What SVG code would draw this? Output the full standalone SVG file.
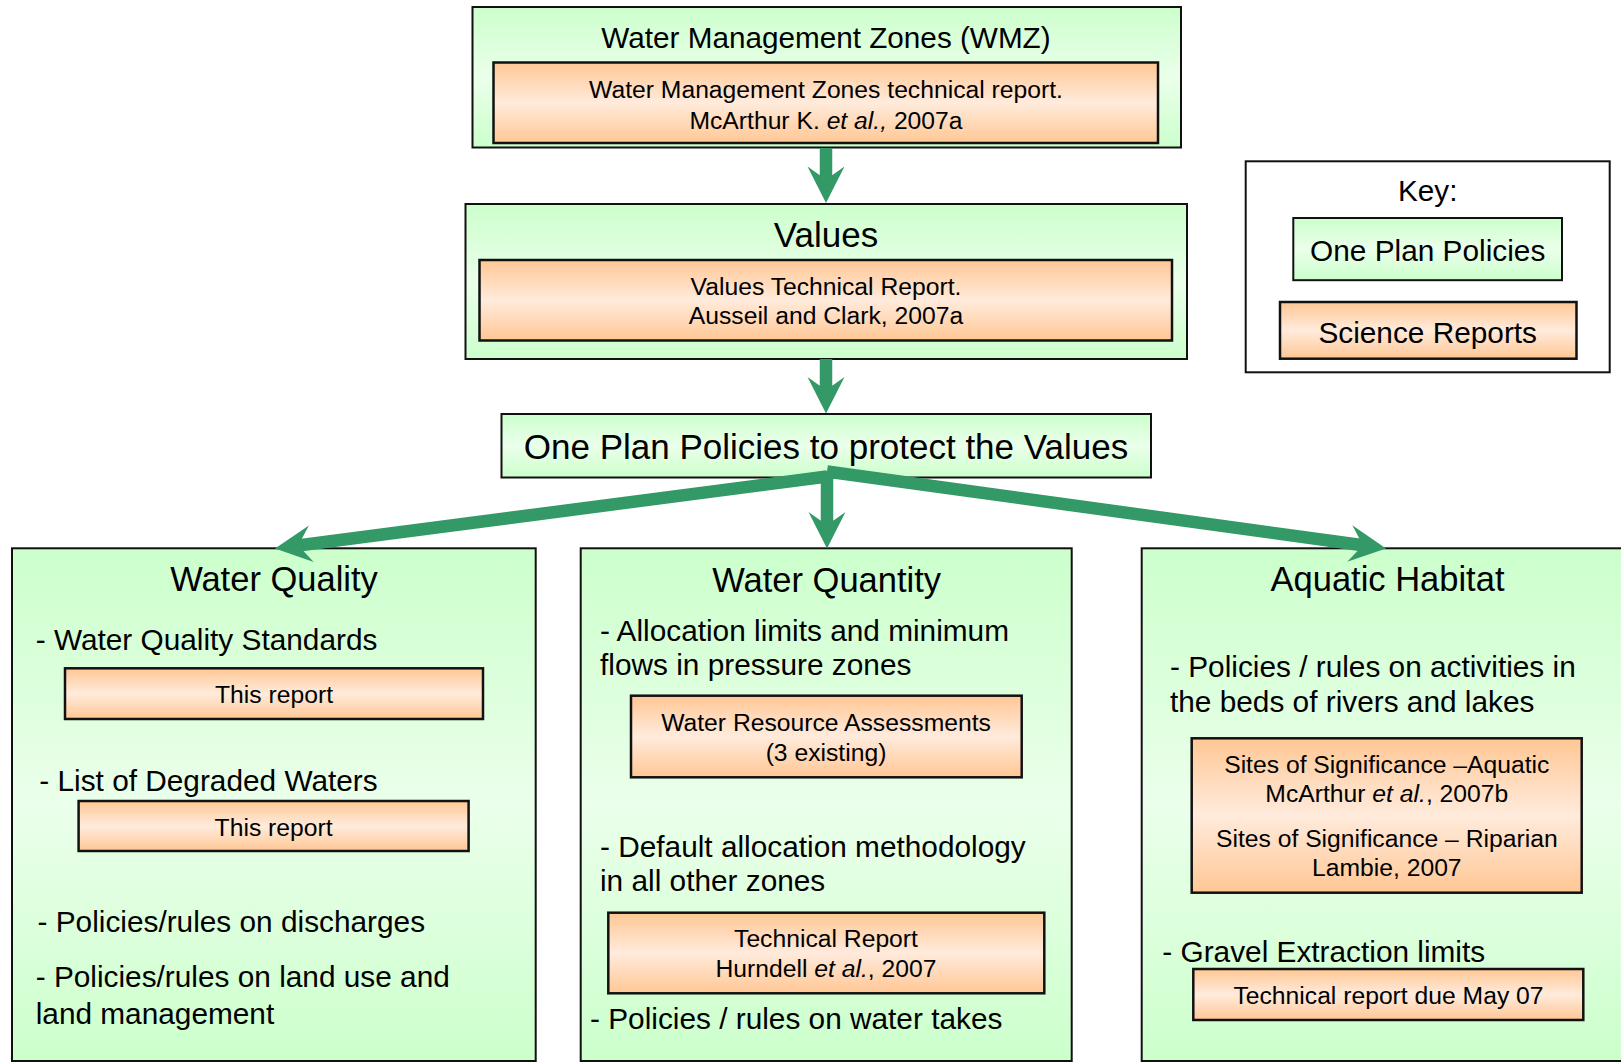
<svg xmlns="http://www.w3.org/2000/svg" width="1621" height="1063" viewBox="0 0 1621 1063">
  <defs>
    <linearGradient id="gGreen" x1="0" y1="0" x2="0" y2="1">
      <stop offset="0" stop-color="#CCFFCC"/>
      <stop offset="0.5" stop-color="#EBFFEB"/>
      <stop offset="1" stop-color="#CCFFCC"/>
    </linearGradient>
    <linearGradient id="gOrange" x1="0" y1="0" x2="0" y2="1">
      <stop offset="0" stop-color="#FFC794"/>
      <stop offset="0.5" stop-color="#FFEBDC"/>
      <stop offset="1" stop-color="#FFC794"/>
    </linearGradient>
    <marker id="arrow" markerUnits="userSpaceOnUse" markerWidth="40" markerHeight="40" viewBox="-12 -20 40 40" refX="0" refY="0" orient="auto" overflow="visible">
      <path d="M27,0 L-9.6,-18.5 L-1,-6.5 L-1,6.5 L-9.6,18.5 Z" fill="#339966"/>
    </marker>
  </defs>
  <style>
    text { font-family: "Liberation Sans", Arial, sans-serif; fill: #000; }
    .policy { fill: url(#gGreen); stroke: #111; stroke-width: 2; }
    .report { fill: url(#gOrange); stroke: #111; stroke-width: 2.5; }
    .key { fill: #fff; stroke: #111; stroke-width: 2; }
    .t-head { font-size: 29.7px; }
    .t-big { font-size: 35px; }
    .t-plan { font-size: 35px; }
    .t-title { font-size: 34.5px; }
    .t-body { font-size: 29.8px; }
    .t-rep { font-size: 24.7px; }
    .mid { text-anchor: middle; }
    .it { font-style: italic; }
    .conn { stroke: #339966; stroke-width: 12.5; fill: none; marker-end: url(#arrow); }
  </style>

  <g id="wmz">
    <rect class="policy" x="472.5" y="7" width="708.5" height="140.5"/>
    <text class="t-head mid" x="826" y="48.3">Water Management Zones (WMZ)</text>
    <rect class="report" x="493.5" y="62.5" width="664.5" height="80.5"/>
    <text class="t-rep mid" x="826" y="98.3">Water Management Zones technical report.</text>
    <text class="t-rep mid" x="826" y="129">McArthur K. <tspan class="it">et al.,</tspan> 2007a</text>
  </g>

  <g id="values">
    <rect class="policy" x="465.5" y="204" width="721.5" height="155"/>
    <text class="t-big mid" x="826" y="246.7">Values</text>
    <rect class="report" x="479.5" y="260" width="692.5" height="80.5"/>
    <text class="t-rep mid" x="826" y="295">Values Technical Report.</text>
    <text class="t-rep mid" x="826" y="324">Ausseil and Clark, 2007a</text>
  </g>

  <g id="one-plan">
    <rect class="policy" x="501.5" y="414" width="649.5" height="63.5"/>
    <text class="t-plan mid" x="826" y="459">One Plan Policies to protect the Values</text>
  </g>

  <g id="key">
    <rect class="key" x="1245.7" y="161.3" width="364" height="211"/>
    <text class="t-head mid" x="1427.7" y="201">Key:</text>
    <rect class="policy" x="1293.3" y="218" width="268.7" height="62.2"/>
    <text class="t-body mid" x="1427.7" y="261">One Plan Policies</text>
    <rect class="report" x="1280" y="302" width="296.5" height="56.7"/>
    <text class="t-body mid" x="1427.7" y="342.5">Science Reports</text>
  </g>

  <g id="water-quality">
    <rect class="policy" x="12" y="548.3" width="523.7" height="512.7"/>
    <text class="t-title mid" x="274" y="591">Water Quality</text>
    <text class="t-body" x="35.7" y="649.8">- Water Quality Standards</text>
    <rect class="report" x="65" y="668.3" width="418" height="50.7"/>
    <text class="t-rep mid" x="274" y="703.3">This report</text>
    <text class="t-body" x="39.3" y="790.5">- List of Degraded Waters</text>
    <rect class="report" x="78.6" y="801" width="390" height="50"/>
    <text class="t-rep mid" x="273.6" y="835.7">This report</text>
    <text class="t-body" x="37.5" y="931.5">- Policies/rules on discharges</text>
    <text class="t-body" x="35.7" y="987.2">- Policies/rules on land use and</text>
    <text class="t-body" x="35.7" y="1023.8">land management</text>
  </g>

  <g id="water-quantity">
    <rect class="policy" x="580.7" y="548.3" width="491" height="512.7"/>
    <text class="t-title mid" x="826.7" y="591.7">Water Quantity</text>
    <text class="t-body" x="600" y="640.5">- Allocation limits and minimum</text>
    <text class="t-body" x="600" y="675">flows in pressure zones</text>
    <rect class="report" x="631" y="695.7" width="390.7" height="81.6"/>
    <text class="t-rep mid" x="826" y="730.7">Water Resource Assessments</text>
    <text class="t-rep mid" x="826" y="760.7">(3 existing)</text>
    <text class="t-body" x="600" y="856.5">- Default allocation methodology</text>
    <text class="t-body" x="600" y="891.2">in all other zones</text>
    <rect class="report" x="608.3" y="912.7" width="436" height="80.6"/>
    <text class="t-rep mid" x="826" y="947.3">Technical Report</text>
    <text class="t-rep mid" x="826" y="976.7">Hurndell <tspan class="it">et al.</tspan>, 2007</text>
    <text class="t-body" x="590" y="1029">- Policies / rules on water takes</text>
  </g>

  <g id="aquatic-habitat">
    <rect class="policy" x="1141.7" y="548.3" width="484" height="512.7"/>
    <text class="t-title mid" x="1387.5" y="590.7">Aquatic Habitat</text>
    <text class="t-body" x="1170" y="677.2">- Policies / rules on activities in</text>
    <text class="t-body" x="1170" y="712.2">the beds of rivers and lakes</text>
    <rect class="report" x="1191.7" y="738.3" width="390" height="154.4"/>
    <text class="t-rep mid" x="1386.8" y="772.8">Sites of Significance –Aquatic</text>
    <text class="t-rep mid" x="1386.8" y="802.2">McArthur <tspan class="it">et al.</tspan>, 2007b</text>
    <text class="t-rep mid" x="1386.8" y="846.5">Sites of Significance – Riparian</text>
    <text class="t-rep mid" x="1386.8" y="875.5">Lambie, 2007</text>
    <text class="t-body" x="1162.3" y="961.5">- Gravel Extraction limits</text>
    <rect class="report" x="1193.3" y="969" width="390" height="51"/>
    <text class="t-rep mid" x="1388.5" y="1003.8">Technical report due May 07</text>
  </g>

  <g id="connectors">
    <line class="conn" x1="826" y1="148" x2="826" y2="176"/>
    <line class="conn" x1="826" y1="359" x2="826" y2="386.5"/>
    <line class="conn" x1="827" y1="471" x2="827" y2="521.5"/>
    <line class="conn" x1="827" y1="476.5" x2="301.8" y2="545"/>
    <line class="conn" x1="827" y1="471.5" x2="1359.3" y2="544.8"/>
  </g>
</svg>
